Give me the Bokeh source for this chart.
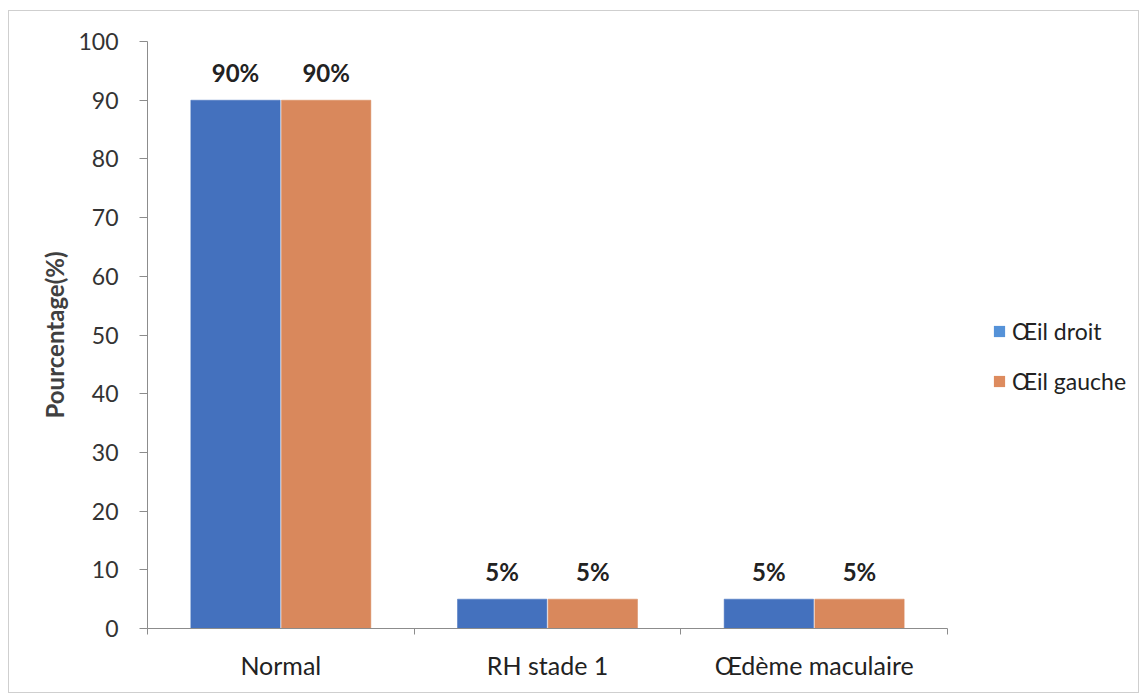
from bokeh.plotting import figure
from bokeh.models import (ColumnDataSource, FixedTicker, Range1d, Legend, LegendItem,
                          LabelSet)
from bokeh.core.properties import value
from bokeh.embed import file_html
from bokeh.resources import INLINE

# Data
categories = ["Normal", "RH stade 1", "Œdème maculaire"]
oeil_droit = [90, 5, 5]
oeil_gauche = [90, 5, 5]
series_names = ["Œil droit", "Œil gauche"]

BLUE = "#4471BE"
ORANGE = "#D9885C"
BLUE_KEY = "#5592D8"
ORANGE_KEY = "#DD8B5E"
FONT = "Lato"

# Layout: the plotting area runs to the right edge so the legend can sit in it;
# the x axis itself only covers the categories.
W, H = 1131, 683
LEFT, RIGHT, TOP, BOTTOM = 138, 2, 30, 66
AXIS_PX = 800
frame_w = W - LEFT - RIGHT

n = len(categories)
centers = [i + 0.5 for i in range(n)]
offset = 0.17
bar_w = 0.335

src_d = ColumnDataSource(dict(
    x=[c - offset for c in centers], top=oeil_droit,
    lbl=[f"{v}%" for v in oeil_droit]))
src_g = ColumnDataSource(dict(
    x=[c + offset for c in centers], top=oeil_gauche,
    lbl=[f"{v}%" for v in oeil_gauche]))

# The chart sits inside a thin grey frame
p = figure(width=W, height=H, output_backend="svg", toolbar_location=None,
           x_range=Range1d(0, n * frame_w / AXIS_PX), y_range=Range1d(0, 100),
           min_border_left=LEFT, min_border_right=RIGHT,
           min_border_top=TOP, min_border_bottom=BOTTOM,
           margin=(10, 0, 0, 8),
           styles={"border": "1px solid #cfcfcf"})
p.outline_line_color = None
p.xgrid.grid_line_color = None
p.ygrid.grid_line_color = None
p.background_fill_color = "white"
p.border_fill_color = "white"

p.vbar(x="x", top="top", width=bar_w, source=src_d,
       fill_color=BLUE, line_color=BLUE, line_width=0.5)
p.vbar(x="x", top="top", width=bar_w, source=src_g,
       fill_color=ORANGE, line_color=ORANGE, line_width=0.5)

for src in (src_d, src_g):
    p.add_layout(LabelSet(x="x", y="top", text="lbl", source=src,
                          text_align="center", text_baseline="bottom", y_offset=13,
                          text_font=value(FONT), text_font_style="bold",
                          text_font_size="24px", text_color="#222222"))

# Legend keys (zero-width bars carrying the key colours)
key_d = p.vbar(x="x", top="top", width=0, source=src_d, fill_color=BLUE_KEY, line_color=None)
key_g = p.vbar(x="x", top="top", width=0, source=src_g, fill_color=ORANGE_KEY, line_color=None)
legend = Legend(items=[LegendItem(label=series_names[0], renderers=[key_d]),
                       LegendItem(label=series_names[1], renderers=[key_g])],
                location=(845, 233), orientation="vertical",
                glyph_width=14, glyph_height=14, label_standoff=6,
                label_height=24, spacing=22, padding=0, margin=0,
                border_line_color=None, background_fill_alpha=0,
                label_text_font=FONT, label_text_font_size="23px",
                label_text_color="#222222")
p.add_layout(legend, "center")

# Y axis
ya = p.yaxis[0]
ya.ticker = FixedTicker(ticks=list(range(0, 101, 10)))
ya.axis_line_color = "#8c8c8c"
ya.major_tick_line_color = "#8c8c8c"
ya.major_tick_out = 8
ya.major_tick_in = 0
ya.minor_tick_line_color = None
ya.major_label_text_font = FONT
ya.major_label_text_font_size = "23px"
ya.major_label_text_color = "#333333"
ya.major_label_standoff = 21
ya.axis_label = "Pourcentage(%)"
ya.axis_label_text_font = FONT
ya.axis_label_text_font_style = "bold"
ya.axis_label_text_font_size = "24px"
ya.axis_label_text_color = "#404040"
ya.axis_label_standoff = 6

# X axis: labels at category centres, ticks on category boundaries
xa = p.xaxis[0]
xa.bounds = (0, n)
xa.ticker = FixedTicker(ticks=centers, minor_ticks=list(range(n + 1)))
xa.major_label_overrides = {c: name for c, name in zip(centers, categories)}
xa.axis_line_color = "#8c8c8c"
xa.major_tick_line_color = None
xa.major_tick_out = 0
xa.major_tick_in = 0
xa.minor_tick_line_color = "#8c8c8c"
xa.minor_tick_out = 6
xa.minor_tick_in = 0
xa.major_label_text_font = FONT
xa.major_label_text_font_size = "25px"
xa.major_label_text_color = "#222222"
xa.major_label_standoff = 15

open("out.html", "w").write(file_html(p, INLINE))
